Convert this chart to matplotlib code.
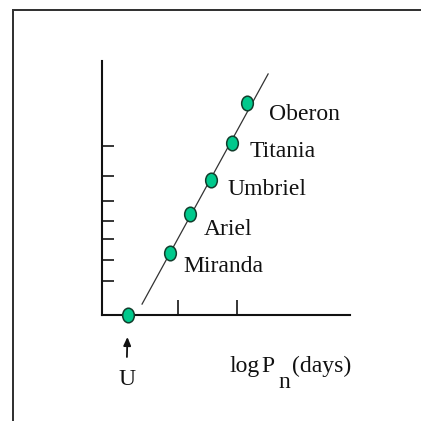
import matplotlib.pyplot as plt
from matplotlib.lines import Line2D
from matplotlib.path import Path
from matplotlib.transforms import Affine2D

# --- data (schematic units) ---
moon_names = ['Miranda', 'Ariel', 'Umbriel', 'Titania', 'Oberon']
moon_logp = [0.86, 1.20, 1.56, 1.92, 2.17]
moon_y = [2.44, 3.98, 5.31, 6.77, 8.35]

uranus_logp = 0.15
uranus_y = 0.0

fit_x = [0.39, 2.53]
fit_y = [0.43, 9.49]

x_ticks = [1, 2]
y_ticks = [1.34, 2.17, 2.99, 3.70, 4.49, 5.47, 6.65]

# label offsets in pixels (right, down) from each moon
label_offsets = [(14, 19), (14, 21), (17, 15), (17, 14), (22, 17)]

W = H = 421
DPI = 100
PT = 72 / DPI  # pixels -> points

fig = plt.figure(figsize=(W / DPI, H / DPI), dpi=DPI)
ax = fig.add_axes([102 / W, 106 / H, 248 / W, 254 / H])

# slightly tall ellipse for the markers
ellipse = Path.unit_circle().transformed(Affine2D().scale(0.8, 1.0))
mstyle = dict(marker=ellipse, markersize=10.5, markerfacecolor='#00c98c',
              markeredgecolor='#123d2c', markeredgewidth=1.1, linestyle='none')

ax.plot(fit_x, fit_y, color='#333333', lw=0.9)
ax.plot(moon_logp, moon_y, zorder=3, **mstyle)
ax.plot([uranus_logp], [uranus_y], zorder=4, clip_on=False, **mstyle)

font = dict(family=['Liberation Serif', 'DejaVu Serif'], size=17, color='#111111')

for name, x, y, (dx, dy) in zip(moon_names, moon_logp, moon_y, label_offsets):
    ax.annotate(name, (x, y), xytext=(dx * PT, -dy * PT), textcoords='offset points',
                ha='left', va='baseline', **font)

# arrow and label for Uranus
ax.annotate('', (uranus_logp, uranus_y), xytext=(-1 * PT, -42 * PT),
            textcoords='offset points',
            arrowprops=dict(arrowstyle='-|>,head_length=0.5,head_width=0.22',
                            color='#111111', lw=1.3, shrinkA=0, shrinkB=22 * PT))
ax.annotate('U', (uranus_logp, uranus_y), xytext=(-1 * PT, -70 * PT),
            textcoords='offset points', ha='center', va='baseline', **font)

ax.set_xlim(-0.29, 3.92)
ax.set_ylim(0, 10)
ax.set_xticks(x_ticks)
ax.set_yticks(y_ticks)
ax.tick_params(axis='x', direction='in', length=15 * PT, width=1.1, labelbottom=False)
ax.tick_params(axis='y', direction='in', length=12 * PT, width=1.1, labelleft=False)
for side in ['top', 'right']:
    ax.spines[side].set_visible(False)
for side in ['left', 'bottom']:
    ax.spines[side].set_linewidth(1.5)
    ax.spines[side].set_color('#111111')
ax.patch.set_alpha(0)

# axis label: log P_n (days)
fig.text(229 / W, 1 - 372 / H, 'log', ha='left', va='baseline', **font)
fig.text(261 / W, 1 - 372 / H, 'P', ha='left', va='baseline', **font)
fig.text(278 / W, 1 - 388 / H, 'n', ha='left', va='baseline', **font)
fig.text(292 / W, 1 - 372 / H, '(days)', ha='left', va='baseline', **font)

# page frame (top and left edges)
frame = dict(color='#333333', lw=2 * PT, transform=fig.transFigure)
fig.add_artist(Line2D([13 / W, 1], [1 - 10 / H, 1 - 10 / H], **frame))
fig.add_artist(Line2D([13 / W, 13 / W], [0, 1 - 10 / H], **frame))

plt.savefig('out.png', dpi=DPI)
